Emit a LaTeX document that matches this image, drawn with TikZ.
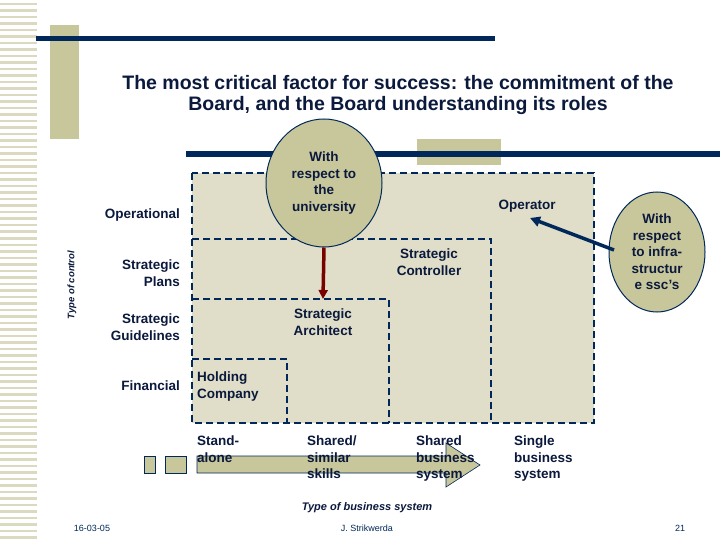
\documentclass[tikz,border=0pt]{standalone}
\usepackage{fontspec}
\setmainfont{Liberation Sans}
\usetikzlibrary{shapes.geometric,arrows.meta}
\definecolor{navy}{RGB}{0,40,90}
\definecolor{ink}{RGB}{10,25,60}
\definecolor{tan}{RGB}{200,198,155}
\definecolor{paleb}{RGB}{224,222,200}
\definecolor{dred}{RGB}{120,0,0}
\tikzset{
  lbl/.style={font=\fontsize{13.5}{16.5}\selectfont\bfseries, text=ink, align=center, inner sep=0},
  lblr/.style={lbl, align=right, anchor=east},
  lbll/.style={lbl, align=left, anchor=north west},
  dbox/.style={draw=navy, line width=1.6pt, dash pattern=on 7pt off 4pt},
  oval/.style={ellipse, draw=navy, line width=1pt, fill=tan, inner sep=0},
  small/.style={font=\fontsize{9}{10}\selectfont, text=navy, inner sep=0}
}
\begin{document}
\begin{tikzpicture}[x=1pt,y=-1pt]
\useasboundingbox (0,0) rectangle (720,540);
\fill[white] (0,0) rectangle (720,540);
% left stripes
\foreach \y in {3,9.5,...,538} \fill[paleb!80!tan] (0,\y) rectangle (37,\y+2.5);
\fill[tan] (50,25) rectangle (79,139);
\fill[navy] (36,36) rectangle (495,41);
\node[font=\fontsize{19.5}{21}\selectfont\bfseries, text=ink, align=center] (title) at (398,95)
  {The most critical factor for success: the commitment of the\\Board, and the Board understanding its roles};
\fill[tan] (417,139) rectangle (501,165);
\fill[navy] (186,151) rectangle (720,157);
% boxes
\draw[dbox, fill=paleb] (192,173) rectangle (594,423);
\draw[dbox] (192,239) -- (491,239) -- (491,423);
\draw[dbox] (192,299) -- (389,299) -- (389,423);
\draw[dbox] (192,359) -- (287,359) -- (287,423);
% ellipses
\node[oval, minimum width=116, minimum height=128] (u) at (324,183) {};
\node[lbl] at (u) {With\\respect to\\the\\university};
\node[oval, minimum width=96, minimum height=120] (i) at (657,252) {};
\node[lbl] at (i) {With\\respect\\to infra-\\structur\\e ssc's};
\coordinate (sa) at (323,299);
\coordinate (op) at (530,218);
\coordinate (is) at (614,250);
\draw[dred, line width=3.5pt, -{Triangle[length=9pt,width=9pt]}] (u.south) -- (sa);
\draw[navy, line width=3.5pt, -{Triangle[length=10pt,width=10pt]}] (is) -- (op);
% row labels
\node[lblr] (r1) at (180,215) {Operational};
\node[lblr] (r2) at (180,273) {Strategic\\Plans};
\node[lblr] (r3) at (180,327) {Strategic\\Guidelines};
\node[lblr] (r4) at (180,386) {Financial};
\node[lbl] (c1) at (527,206) {Operator};
\node[lbl] (c2) at (429,262) {Strategic\\Controller};
\node[lbl] (c3) at (323,322) {Strategic\\Architect};
\node[lbll] (c4) at (197,372) {Holding\\Company};
\node[font=\fontsize{9.5}{10}\selectfont\itshape\bfseries, text=ink, rotate=90] (tc) at (72,285) {Type of control};
% bottom arrow
\draw[navy, fill=tan, line width=0.6pt] (144,456) rectangle (155,473);
\draw[navy, fill=tan, line width=0.6pt] (165,456) rectangle (186,473);
\draw[navy, fill=tan, line width=0.6pt] (197,456) -- (446,456) -- (446,443) -- (480,465) -- (446,487) -- (446,473) -- (197,473) -- cycle;
\node[lbll] (b1) at (197,436) {Stand-\\alone};
\node[lbll] (b2) at (307,436) {Shared/\\similar\\skills};
\node[lbll] (b3) at (416,436) {Shared\\business\\system};
\node[lbll] (b4) at (514,436) {Single\\business\\system};
\node[font=\fontsize{11}{12}\selectfont\itshape\bfseries, text=ink] (tb) at (367,508) {Type of business system};
\node[small] (d) at (92,528) {16-03-05};
\node[small] (a) at (367,528) {J. Strikwerda};
\node[small] (p) at (680,528) {21};
\end{tikzpicture}
\end{document}
